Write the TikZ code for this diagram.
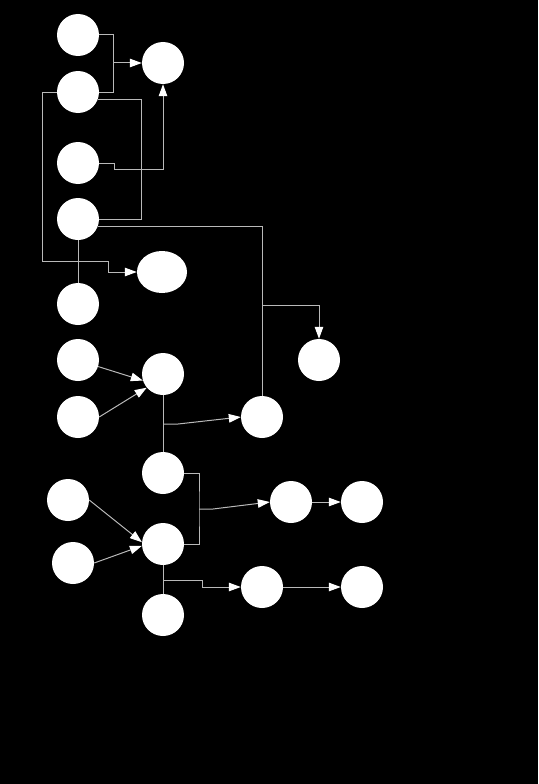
\documentclass[tikz,border=0pt]{standalone}
\usepackage{tikz}
\usetikzlibrary{arrows.meta, positioning, shapes.geometric}
\usepackage{xcolor}
\definecolor{wiregray}{RGB}{185,185,185}

\begin{document}
\begin{tikzpicture}[x=1pt, y=-1pt,
    bub/.style={circle, fill=white, minimum size=42pt, inner sep=0pt},
    oval/.style={ellipse, fill=white, minimum width=50pt, minimum height=42pt, inner sep=0pt},
    wire/.style={draw=wiregray, line width=1pt},
    arr/.style={wire, -{Triangle[length=12pt, width=8.5pt, color=white]}}]
        % background
        \fill[black] (0,0) rectangle (538,784);
        % upper column
        \node[bub] (a1) at (78,35) {}; \node[bub] (a2) at (78,92) {};
        \node[bub] (a3) at (78,163) {}; \node[bub] (a4) at (78,219) {};
        \node[bub] (a5) at (78,304) {};
        \node[bub] (top) at (163,63) {};
        \node[oval] (ov) at (162,272) {};
        \node[bub] (far) at (319,360) {};
        % middle part
        \node[bub] (b1) at (78,360) {}; \node[bub] (b2) at (78,417) {};
        \node[bub] (c) at (163,374) {};
        \node[bub] (g) at (262,417) {};
        % lower part
        \node[bub] (d) at (163,473) {};
        \node[bub] (h) at (68,500) {}; \node[bub] (j) at (73,563) {};
        \node[bub] (i) at (163,544) {}; \node[bub] (k) at (163,615) {};
        \node[bub] (l) at (291,502) {}; \node[bub] (m) at (362,502) {};
        \node[bub] (n) at (262,587) {}; \node[bub] (o) at (362,587) {};
        % junctions
        \coordinate (jt) at (113,63);
        \coordinate (jo) at (108,261);
        \coordinate (jf) at (262,305);
        \coordinate (jg) at (163,424);
        \coordinate (jl) at (199,509);
        \coordinate (jn) at (163,580);
        % upper connectors
        \draw[wire] (a1.east) -| (jt); \draw[wire] (a2.east) -| (jt);
        \draw[arr] (jt) -- (top.west);
        \draw[arr] (a3.east) -- ++(15,0) -- ++(0,6) -| (top.south);
        \draw[wire] (a2.-20) -- ++(44,0) |- (a4.east);
        \draw[arr] (a2.west) -- ++(-14,0) |- (jo) |- (ov.west);
        \draw[wire] (a4.south) -- (a5.north);
        \draw[wire] (a4.-20) -| (jf);
        \draw[arr] (jf) -| (far.north);
        \draw[wire] (g.north) -- (jf);
        % middle connectors
        \draw[arr] (b1.-18) -- (c.198);
        \draw[arr] (b2.east) -- (c.220);
        \draw[wire] (c.south) -- (d.north);
        \draw[arr] (jg) -- ++(15,0) -- (g.west);
        % lower connectors
        \draw[wire] (d.east) -| (jl) |- (i.east);
        \draw[arr] (jl) -- ++(14,0) -- (l.west);
        \draw[arr] (h.east) -- (i.175);
        \draw[arr] (j.east) -- (i.185);
        \draw[wire] (i.south) -- (k.north);
        \draw[arr] (jn) -- ++(39,0) |- (n.west);
        \draw[arr] (l) -- (m);
        \draw[arr] (n) -- (o);
\end{tikzpicture}
\end{document}
